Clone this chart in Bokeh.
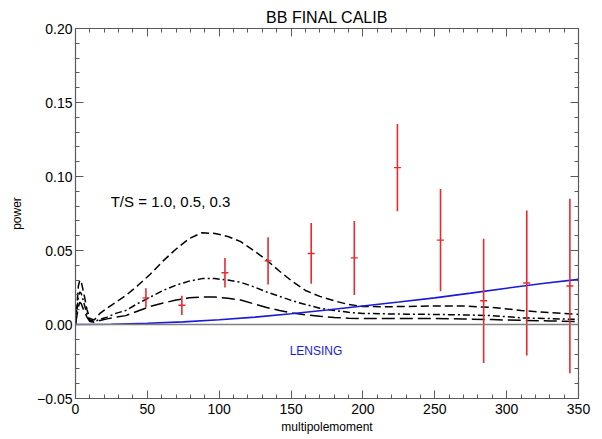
from bokeh.plotting import figure
from bokeh.models import (LinearAxis, FixedTicker, CustomJSTickFormatter, Range1d, Span, ColumnDataSource)
from bokeh.core.properties import value
from bokeh.embed import file_html
from bokeh.resources import INLINE

# ---- data ----
ell_pts = [49, 74, 104, 134, 164, 194, 224, 254, 284, 314, 344]
pow_pts = [0.018, 0.013, 0.035, 0.043, 0.048, 0.045, 0.106, 0.057, 0.016, 0.028, 0.026]
err_pts = [0.0065, 0.0065, 0.010, 0.016, 0.0205, 0.025, 0.0295, 0.0345, 0.042, 0.049, 0.059]

ell_th = [0, 2, 3, 4, 6, 8, 10, 13, 17, 22, 28, 35, 43, 52, 61, 70, 79, 88, 97, 106, 115,
          124, 133, 142, 151, 160, 170, 180, 190, 200, 215, 230, 250, 270, 290, 310, 330, 350]
ts_10 = [0.0, 0.026, 0.030, 0.029, 0.020, 0.010, 0.004, 0.003, 0.0075, 0.011, 0.015, 0.0196,
         0.026, 0.034, 0.043, 0.051, 0.058, 0.062, 0.0615, 0.0595, 0.056, 0.050, 0.0435, 0.036,
         0.029, 0.023, 0.019, 0.016, 0.0135, 0.0122, 0.012, 0.0122, 0.0125, 0.0125, 0.0115,
         0.0095, 0.008, 0.0068]
ts_05 = [0.0, 0.019, 0.022, 0.021, 0.014, 0.007, 0.003, 0.002, 0.0034, 0.005, 0.0075, 0.0095,
         0.014, 0.0185, 0.023, 0.0266, 0.0293, 0.031, 0.031, 0.030, 0.0285, 0.0255, 0.022, 0.019,
         0.016, 0.0135, 0.011, 0.0095, 0.0082, 0.0075, 0.0072, 0.007, 0.0068, 0.0065, 0.006,
         0.0045, 0.004, 0.0034]
ts_03 = [0.0, 0.012, 0.015, 0.014, 0.009, 0.005, 0.002, 0.0015, 0.0027, 0.0038, 0.005, 0.006,
         0.009, 0.0122, 0.0145, 0.0165, 0.018, 0.0186, 0.0185, 0.0178, 0.0165, 0.014, 0.0115,
         0.0095, 0.0078, 0.0065, 0.0055, 0.0048, 0.0042, 0.004, 0.004, 0.004, 0.004, 0.0037,
         0.0033, 0.0028, 0.0024, 0.002]

ell_lens = [0, 25, 50, 75, 100, 125, 150, 175, 200, 225, 250, 275, 300, 325, 350]
lensing = [0.0, 0.0002, 0.0008, 0.0018, 0.0032, 0.005, 0.0073, 0.0098, 0.0125, 0.0152,
           0.018, 0.0212, 0.0245, 0.0277, 0.0305]

x_ticks = [0, 50, 100, 150, 200, 250, 300, 350]
y_ticks = [-0.05, 0.0, 0.05, 0.10, 0.15, 0.20]
x_minor = list(range(0, 351, 10))
y_minor = [round(-0.05 + 0.01 * i, 2) for i in range(26)]

title_text = "BB FINAL CALIB"
xlabel = "multipolemoment"
ylabel = "power"
ann_text = ["T/S = 1.0, 0.5, 0.3"]
ann_x = [24.5]
ann_y = [0.083]
lens_text = ["LENSING"]
lens_x = [149]
lens_y = [-0.0176]

FONT = "Liberation Sans"
AX = "#5a5a5a"

p = figure(width=602, height=439, output_backend="svg", toolbar_location=None,
           x_range=Range1d(0, 350), y_range=Range1d(-0.05, 0.20),
           min_border_left=75, min_border_right=24, min_border_top=28, min_border_bottom=41,
           x_axis_location=None, y_axis_location=None)
p.grid.visible = False
p.outline_line_color = None
p.background_fill_color = "white"
p.border_fill_color = "white"

p.title.text = title_text
p.title.align = "center"
p.title.text_font = FONT
p.title.text_font_size = "16px"
p.title.text_font_style = "normal"
p.title.text_color = "black"
p.title.standoff = 6

xt = FixedTicker(ticks=x_ticks, minor_ticks=x_minor)
yt = FixedTicker(ticks=y_ticks, minor_ticks=y_minor)
yfmt = CustomJSTickFormatter(code="return tick.toFixed(2).replace('-', '\u2212');")

def style(ax, labels=True):
    ax.axis_line_color = AX
    ax.axis_line_width = 1.2
    ax.major_tick_line_color = AX
    ax.minor_tick_line_color = AX
    ax.major_tick_in = 8
    ax.major_tick_out = 0
    ax.minor_tick_in = 4
    ax.minor_tick_out = 0
    if labels:
        ax.major_label_text_font = FONT
        ax.major_label_text_font_size = "14px"
        ax.major_label_text_color = "black"
        ax.axis_label_text_font = FONT
        ax.axis_label_text_font_size = "12px"
        ax.axis_label_text_font_style = "normal"
        ax.axis_label_text_color = "black"
    else:
        ax.major_label_text_font_size = "1px"
        ax.major_label_text_color = None
        ax.major_label_standoff = 0

bottom = LinearAxis(ticker=xt, axis_label=xlabel)
style(bottom)
bottom.major_label_standoff = 5
bottom.axis_label_standoff = 3
p.add_layout(bottom, "below")

left = LinearAxis(ticker=yt, formatter=yfmt, axis_label=ylabel)
style(left)
left.major_label_standoff = 3
left.axis_label_standoff = 10
p.add_layout(left, "left")

top = LinearAxis(ticker=xt)
style(top, labels=False)
p.add_layout(top, "above")

right = LinearAxis(ticker=yt)
style(right, labels=False)
p.add_layout(right, "right")

p.add_layout(Span(location=0, dimension="width", line_color="#808080", line_width=1.5))

# theory curves
p.line(ell_th, ts_10, line_color="black", line_width=1.5, line_dash="8 4")
p.line(ell_th, ts_05, line_color="black", line_width=1.5, line_dash="7 3 2 3")
p.line(ell_th, ts_03, line_color="black", line_width=1.5, line_dash="13 5")
p.line(ell_lens, lensing, line_color="#1a1ad8", line_width=1.6)

# data points with errors
src = ColumnDataSource(dict(
    x=ell_pts, y=pow_pts,
    lo=[v - e for v, e in zip(pow_pts, err_pts)],
    hi=[v + e for v, e in zip(pow_pts, err_pts)]))
p.segment(x0="x", y0="lo", x1="x", y1="hi", source=src, line_color="#e62a30", line_width=1.6)
p.scatter(x="x", y="y", source=src, marker="dash", size=7, line_color="#e62a30", line_width=1.4)

p.text(x=ann_x, y=ann_y, text=ann_text, text_font=value(FONT), text_font_size="15px",
       text_color="black", text_baseline="middle", text_align="left")
p.text(x=lens_x, y=lens_y, text=lens_text, text_font=value(FONT), text_font_size="12px",
       text_color="#1a1ad8", text_baseline="middle", text_align="left")

open("out.html", "w").write(file_html(p, INLINE))
